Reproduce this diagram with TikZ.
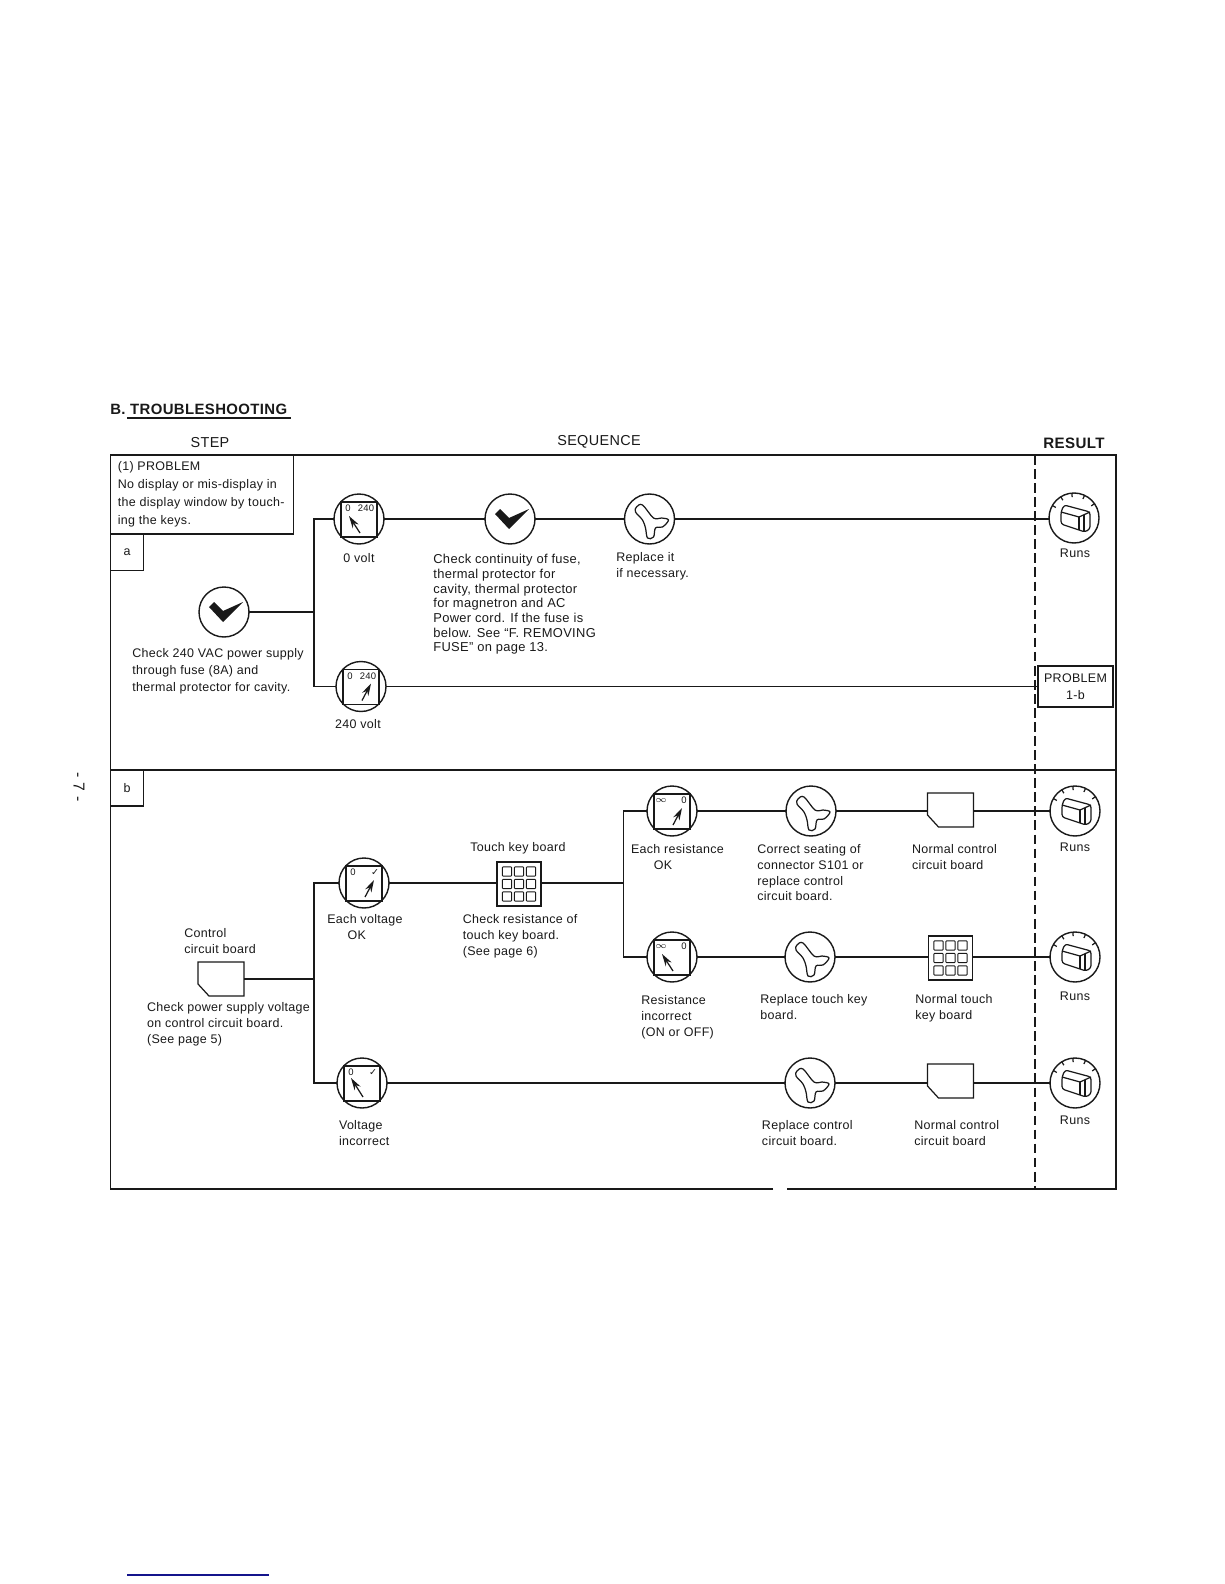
\documentclass[tikz,border=0pt]{standalone}
\usepackage{fontspec}
\setmainfont[LetterSpace=2.5]{Liberation Sans}
\newfontfamily\symfont{DejaVu Sans}
\usepackage{tikz}
\usetikzlibrary{arrows.meta, calc}
\definecolor{INK}{RGB}{25,25,25}
\definecolor{NAVY}{RGB}{20,20,140}

% face of a meter: node name, left mark, right mark, right mark x, needle tip
\newcommand{\meterface}[5]{
  \begin{scope}[shift={(#1)}]
    \draw[face] (-18,-17) rectangle (18,18);
    \node[tick] (#1l) at (-11,-10.5) {#2};
    \node[tick] (#1r) at (#4,-10.5) {#3};
    \draw[needle] (1,14) -- (#5);
  \end{scope}
}
\newcommand{\checkface}[1]{
  \fill[INK, shift={(#1)}] (-15,-5) -- (-10,-10) -- (-1,-1) -- (19,-10) -- (-1,10) -- cycle;
}
\newcommand{\replaceface}[1]{
  \draw[face, shift={(#1)}] plot[smooth cycle, tension=.6] coordinates
    {(-13,-12) (-7,-14) (4,-1) (12,-1) (19,1) (13,8) (6,9) (4,18) (-2,19) (-4,9) (-7,1) (-14,-7)};
}
\newcommand{\runsface}[1]{
  \begin{scope}[shift={(#1)}]
    \foreach \ang in {-150,-122,-95,-65,-35}
      \draw[face] (\ang:21) -- (\ang:25);
    \draw[face, rounded corners=1.5pt] (-13,-6) -- (-10,-13) -- (16,-6) -- (16,11) -- (11,14) -- (5,12) -- (-13,6) -- cycle;
    \draw[face] (-13,-6) -- (5,-1) -- (16,-6);
    \draw[face] (5,-1) -- (5,12);
    \draw[face] (10,-3) -- (10,14);
  \end{scope}
}
\newcommand{\boardface}[1]{
  \draw[face, shift={(#1)}] (-23,-17) -- (23,-17) -- (23,17) -- (-12,17) -- (-23,5) -- cycle;
}
\newcommand{\keyface}[1]{
  \begin{scope}[shift={(#1)}]
    \foreach \kx in {-12,0,12} \foreach \ky in {-12.5,0,12.5}
      \draw[draw=INK, line width=.55pt, rounded corners=.5pt] (\kx-4.7,\ky-4.7) rectangle (\kx+4.7,\ky+4.7);
  \end{scope}
}

\begin{document}
\begin{tikzpicture}[
  x=.02cm, y=-.02cm,
  dial/.style={draw=INK, thick, circle, minimum size=1cm, inner sep=0pt, outer sep=0pt},
  board/.style={minimum width=.92cm, minimum height=.68cm, inner sep=0pt, outer sep=0pt},
  keys/.style={draw=INK, thick, minimum width=.88cm, minimum height=.88cm, inner sep=0pt, outer sep=0pt},
  tag/.style={draw=INK, thick, inner sep=0pt, outer sep=0pt, align=center, font=\fontsize{7.1}{9.4}\selectfont, text=INK},
  arr/.style={draw=INK, thick},
  face/.style={draw=INK, line width=.7pt},
  needle/.style={draw=INK, line width=.7pt, -{Stealth[length=7pt,width=4pt]}},
  tick/.style={font=\fontsize{5.4}{6}\selectfont, text=INK, inner sep=0pt},
  lbl/.style={anchor=north west, inner sep=0pt, align=left, text=INK, font=\fontsize{7.1}{9}\selectfont},
  lbc/.style={lbl, anchor=north, align=center},
  hdr/.style={inner sep=0pt, text=INK, font=\fontsize{8.2}{10}\selectfont}
]
\useasboundingbox (0,0) rectangle (1224,1584);

% headings
\node[hdr, anchor=west] (title) at (110,409) {\bfseries\fontsize{8.5}{10}\selectfont B. TROUBLESHOOTING};
\coordinate (ulA) at (127,418); \coordinate (ulB) at (291,418);
\draw[arr] (ulA) -- (ulB);
\node[hdr] (hstep) at (210,443) {STEP};
\node[hdr] (hseq) at (599,442) {SEQUENCE};
\node[hdr] (hres) at (1074,443) {\bfseries\fontsize{8.6}{10}\selectfont RESULT};
\node[hdr, rotate=-90, font=\fontsize{9}{10}\selectfont] (pageno) at (79,787) {- 7 -};

% frame and sections
\draw[arr] (773,1189) -- (110.5,1189) -- (110.5,455) -- (1116,455) -- (1116,1189) -- (787,1189);
\draw[arr] (110.5,770) -- (1116,770);
\draw[arr, dash pattern=on 5.5pt off 2.5pt] (1035,455) -- (1035,1189);

\node[tag, minimum width=3.66cm, minimum height=1.58cm, anchor=north west] (prob) at (110.5,455) {};
\node[lbl, font=\fontsize{7.1}{10.2}\selectfont] (probt) at (117.5,461) {(1) PROBLEM\\No display or mis-display in\\the display window by touch-\\ing the keys.};
\node[tag, minimum width=.66cm, minimum height=.73cm, anchor=north west] (boxa) at (110.5,534) {a};
\node[tag, minimum width=.66cm, minimum height=.72cm, anchor=north west] (boxb) at (110.5,770) {b};

% section a
\node[dial] (ca) at (224,612) {}; \checkface{ca}
\node[dial] (m1) at (359,519) {}; \meterface{m1}{0}{240}{7}{-10,-3}
\node[dial] (c1) at (510,519) {}; \checkface{c1}
\node[dial] (r1) at (649.5,519) {}; \replaceface{r1}
\node[dial] (run1) at (1074,518) {}; \runsface{run1}
\node[dial] (m2) at (361,686.5) {}; \meterface{m2}{0}{240}{7}{10,-3}
\node[tag, fill=white, minimum width=1.5cm, minimum height=.82cm] (pb) at (1075.5,686.5) {PROBLEM\\1-b};

\coordinate (ja) at (314,612);
\draw[arr] (ca) -- (ja);
\draw[arr] (m1) -| (ja) |- (m2);
\draw[arr] (m1) -- (c1); \draw[arr] (c1) -- (r1);
\draw[arr] (r1) -- (run1.west |- r1);
\draw[arr] (m2) -- (pb);

\node[lbc] (t0v) at (359,553) {0 volt};
\node[lbc] (t240) at (358,719) {240 volt};
\node[lbl, font=\fontsize{7.35}{8.35}\selectfont] (tcont) at (433,554) {Check continuity of fuse,\\thermal protector for\\cavity, thermal protector\\for magnetron and AC\\Power cord. If the fuse is\\below. See ``F. REMOVING\\FUSE'' on page 13.};
\node[lbl] (trep) at (616,552) {Replace it\\if necessary.};
\node[lbl, font=\fontsize{7.1}{9.6}\selectfont] (tchk) at (132,648) {Check 240 VAC power supply\\through fuse (8A) and\\thermal protector for cavity.};
\node[lbc] (trun1) at (1075,549) {Runs};

% section b
\node[board] (bc) at (221,979) {}; \boardface{bc}
\node[dial] (m3) at (364,883) {}; \meterface{m3}{0}{\symfont ✓}{11}{10,-3}
\node[keys] (k1) at (519,884) {}; \keyface{k1}
\node[dial] (m4) at (672,811) {}; \meterface{m4}{$\infty$}{0}{12}{10,-3}
\node[dial] (r2) at (811,811) {}; \replaceface{r2}
\node[board] (b1) at (950.5,810) {}; \boardface{b1}
\node[dial] (run2) at (1075,811) {}; \runsface{run2}
\node[dial] (m5) at (672,957) {}; \meterface{m5}{$\infty$}{0}{12}{-10,-3}
\node[dial] (r3) at (810,957) {}; \replaceface{r3}
\node[keys] (k2) at (950.5,958) {}; \keyface{k2}
\node[dial] (run3) at (1075,957) {}; \runsface{run3}
\node[dial] (m6) at (362,1083) {}; \meterface{m6}{0}{\symfont ✓}{11}{-11,-5}
\node[dial] (r4) at (810,1083) {}; \replaceface{r4}
\node[board] (b2) at (950.5,1081) {}; \boardface{b2}
\node[dial] (run4) at (1075,1083) {}; \runsface{run4}

\coordinate (jb) at (314,979);
\coordinate (jc) at (623.5,883);
\draw[arr] (bc) -- (jb);
\draw[arr] (m3) -| (jb) |- (m6);
\draw[arr] (m3) -- (k1.west |- m3); \draw[arr] (k1.east |- m3) -- (jc);
\draw[arr] (m4) -| (jc) |- (m5);
\draw[arr] (m4) -- (r2); \draw[arr] (r2) -- (b1.west |- r2); \draw[arr] (b1.east |- r2) -- (run2);
\draw[arr] (m5) -- (r3); \draw[arr] (r3) -- (k2.west |- r3); \draw[arr] (k2.east |- r3) -- (run3);
\draw[arr] (m6) -- (r4); \draw[arr] (r4) -- (b2.west |- r4); \draw[arr] (b2.east |- r4) -- (run4);

\node[lbl] (tctl) at (184,928) {Control\\circuit board};
\node[lbl] (tpow) at (146.7,1002) {Check power supply voltage\\on control circuit board.\\(See  page 5)};
\node[lbl] (tev) at (327,914) {Each voltage\\\hspace*{11.5pt}OK};
\node[lbc] (ttk) at (518,842) {Touch key board};
\node[lbl] (tres) at (462.5,914) {Check resistance of\\touch key board.\\(See page 6)};
\node[lbl] (ter) at (630.7,844) {Each resistance\\\hspace*{13pt}OK};
\node[lbl] (tcor) at (757,844) {Correct seating of\\connector S101 or\\replace control\\circuit  board.};
\node[lbl] (tnc1) at (911.7,844) {Normal control\\circuit board};
\node[lbc] (trun2) at (1075,843) {Runs};
\node[lbl] (tri) at (641,995) {Resistance\\incorrect\\(ON or OFF)};
\node[lbl] (trtk) at (760,994) {Replace touch key\\board.};
\node[lbl] (tnt) at (915,994) {Normal touch\\key board};
\node[lbc] (trun3) at (1075,992) {Runs};
\node[lbl] (tvi) at (338.7,1120) {Voltage\\incorrect};
\node[lbl] (trc) at (761.6,1120) {Replace control\\circuit  board.};
\node[lbl] (tnc2) at (914,1120) {Normal control\\circuit board};
\node[lbc] (trun4) at (1075,1116) {Runs};

% stray line at the foot of the page
\coordinate (ftA) at (127,1575); \coordinate (ftB) at (269,1575);
\draw[NAVY, thick] (ftA) -- (ftB);
\end{tikzpicture}
\end{document}
